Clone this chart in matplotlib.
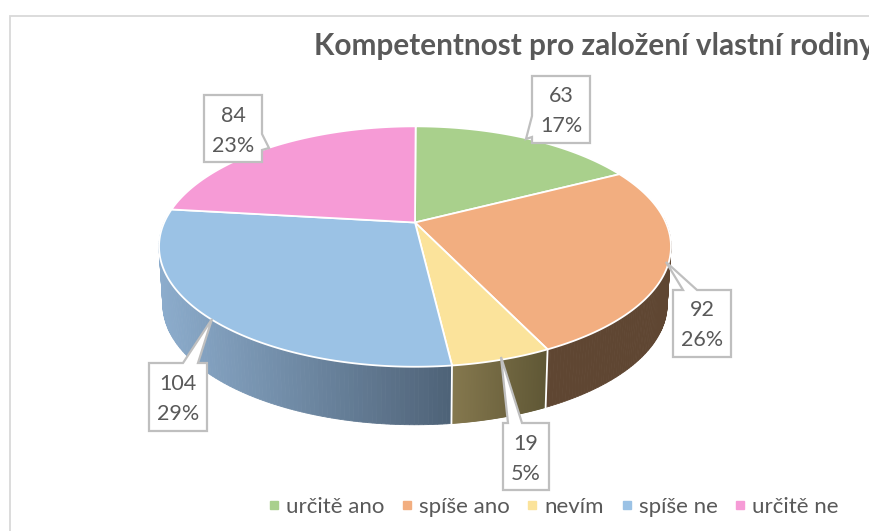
import numpy as np
import matplotlib
matplotlib.use("Agg")
import matplotlib.pyplot as plt
from matplotlib.patches import Polygon
from matplotlib.lines import Line2D

# ---- data ----
categories = ["určitě ano", "spíše ano", "nevím", "spíše ne", "určitě ne"]
values = [63, 92, 19, 104, 84]
percent_labels = ["17%", "26%", "5%", "29%", "23%"]
title_text = "Kompetentnost pro založení vlastní rodiny"

# ---- style ----
top_colors = ["#A9D08C", "#F2AE80", "#FBE39B", "#9BC2E5", "#F69BD6"]
side_light = ["#6E8A5C", "#5F4632", "#85784E", "#8CACCC", "#A0659C"]
side_dark = ["#6E8A5C", "#5F4632", "#5F5735", "#4E6277", "#A0659C"]
TXT = "#595959"
BOX = "#BFBFBF"
FONT = "Lato"

# pie projection (pixel space of the 869x531 canvas)
CX, CY = 415.0, 222.5
K = 0.2
A, B = 250.8, 115.4
DEPTH = 58.0
SHRINK = 0.985
ROTATION = 0.003  # radians, clockwise


def top_pt(theta):
    """theta clockwise from 12 o'clock, in radians -> screen pixel on the top face."""
    u, v = np.sin(theta), -np.cos(theta)
    d = 1 - K * v
    return CX + A * u / d, CY + B * v / d


def bot_pt(theta):
    x, y = top_pt(theta)
    return CX + (x - CX) * SHRINK, y + DEPTH


fig = plt.figure(figsize=(8.69, 5.31), dpi=100)
ax = fig.add_axes([0, 0, 1, 1])
ax.set_xlim(0, 869)
ax.set_ylim(531, 0)
ax.axis("off")

# chart frame
ax.plot([9.5, 9.5, 869], [531, 16, 16], color="#D9D9D9", lw=1.3, zorder=1,
        solid_joinstyle="miter")

edges = np.cumsum([0] + values) / float(sum(values)) * 2 * np.pi + ROTATION

# side wall
for i in range(len(values)):
    t0, t1 = edges[i], edges[i + 1]
    ts = np.linspace(t0, t1, 120)
    vis = [t for t in ts if -np.cos(t) > K - 0.25]
    if not vis:
        continue
    xs = [top_pt(t)[0] for t in vis]
    xa, xb = min(xs), max(xs)
    c0 = np.array(matplotlib.colors.to_rgb(side_light[i]))
    c1 = np.array(matplotlib.colors.to_rgb(side_dark[i]))
    for a, b in zip(vis[:-1], vis[1:]):
        xm = (top_pt(a)[0] + top_pt(b)[0]) / 2
        f = (xm - xa) / max(xb - xa, 1)
        col = c0 + (c1 - c0) * f
        ax.add_patch(Polygon([top_pt(a), top_pt(b), bot_pt(b), bot_pt(a)],
                             closed=True, facecolor=col, edgecolor=col,
                             lw=0.6, zorder=2))

# white seams on the wall where slices meet
for t in edges:
    if -np.cos(t) > K:
        p, q = top_pt(t), bot_pt(t)
        ax.plot([p[0], q[0]], [p[1], q[1]], color="white", lw=1.3, zorder=3)

# top face
for i in range(len(values)):
    ts = np.linspace(edges[i], edges[i + 1], 200)
    pts = [(CX, CY)] + [top_pt(t) for t in ts]
    ax.add_patch(Polygon(pts, closed=True, facecolor=top_colors[i],
                         edgecolor="white", lw=1.3, joinstyle="round", zorder=4))

# callouts: box (x0, y0, x1, y1), pointer tip, pointer base points
callouts = [
    ((532, 76, 590, 143), (526, 139), (532, 116), (532, 137)),
    ((673, 290, 731, 357), (666, 262), (683, 290), (697, 290)),
    ((503, 423, 549, 490), (501, 357), (508, 423), (522, 423)),
    ((149, 363, 207, 431), (212, 319), (183, 363), (198, 363)),
    ((204, 95, 262, 162), (269, 148), (262, 134), (262, 150)),
]
for i, (box, tip, b0, b1) in enumerate(callouts):
    x0, y0, x1, y1 = box
    verts = [(x0, y0), (x1, y0), (x1, y1), (x0, y1)]
    if b0[1] == y0 and b1[1] == y0:
        verts = [(x0, y0), b0, tip, b1, (x1, y0), (x1, y1), (x0, y1)]
    elif b0[0] == x1:
        verts = [(x0, y0), (x1, y0), b0, tip, b1, (x1, y1), (x0, y1)]
    elif b0[0] == x0:
        verts = [(x0, y0), (x1, y0), (x1, y1), (x0, y1), b1, tip, b0]
    ax.add_patch(Polygon(verts, closed=True, facecolor="white", edgecolor=BOX,
                         lw=1.6, joinstyle="miter", zorder=6))
    cx = (x0 + x1) / 2
    ax.text(cx, y0 + 20.5, str(values[i]), ha="center", va="center",
            color=TXT, fontsize=15.5, family=FONT, zorder=7)
    ax.text(cx, y0 + 50.5, percent_labels[i], ha="center", va="center",
            color=TXT, fontsize=15.5, family=FONT, zorder=7)

# title (runs past the right edge, as in the reference)
ax.text(314, 46, title_text, ha="left", va="center", color=TXT, fontsize=21.4,
        fontweight="bold", family=FONT, zorder=7)

# legend
handles = [Line2D([], [], linestyle="none", marker="s", markersize=5.5,
                  markerfacecolor=c, markeredgecolor=c) for c in top_colors]
leg = ax.legend(handles, categories, ncol=5, loc="center",
                bbox_to_anchor=(554.5, 507), bbox_transform=ax.transData,
                frameon=False, handlelength=0.35, handletextpad=0.38,
                columnspacing=0.83, borderpad=0, labelcolor=TXT,
                prop={"family": FONT, "size": 16})
leg.set_zorder(8)

fig.savefig("out.png", dpi=100, facecolor="white")
